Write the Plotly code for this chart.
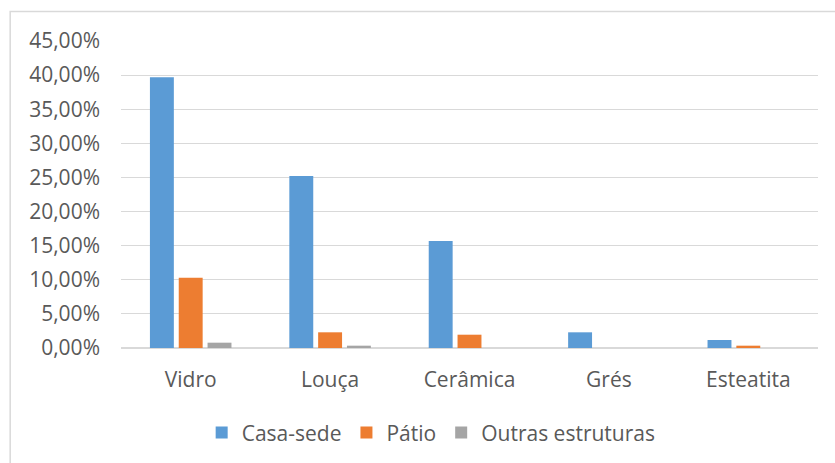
import plotly.graph_objects as go

# Share of archaeological material by category and excavation area
categories = ["Vidro", "Louça", "Cerâmica", "Grés", "Esteatita"]
casa_sede = [0.397, 0.252, 0.157, 0.023, 0.0117]
patio = [0.103, 0.023, 0.0195, 0.0, 0.0034]
outras = [0.0078, 0.0034, 0.0, 0.0, 0.0]
y_ticks = [0.0, 0.05, 0.10, 0.15, 0.20, 0.25, 0.30, 0.35, 0.40, 0.45]

font_family = "Open Sans"
text_color = "#595959"
grid_color = "#D9D9D9"

fig = go.Figure()
for name, vals, color in [
    ("Casa-sede", casa_sede, "#5B9BD5"),
    ("Pátio", patio, "#ED7D31"),
    ("Outras estruturas", outras, "#A5A5A5"),
]:
    fig.add_trace(go.Bar(x=categories, y=vals, name=name, marker_color=color,
                         marker_line_width=0))

fig.update_layout(
    width=835, height=463,
    margin=dict(l=121, r=17, t=41, b=115, autoexpand=False),
    paper_bgcolor="white", plot_bgcolor="white",
    separators=",.",
    barmode="group", bargap=0.38, bargroupgap=0.17,
    font=dict(family=font_family, size=21, color=text_color),
    showlegend=True,
    legend=dict(orientation="h", x=0.445, xanchor="center", y=-0.276,
                yanchor="middle", font=dict(size=21, color=text_color),
                traceorder="normal", itemwidth=30),
    shapes=[dict(type="rect", xref="paper", yref="paper",
                 x0=-0.159, x1=1.2, y0=-0.6, y1=1.096,
                 line=dict(color=grid_color, width=1.5), layer="below")],
)
fig.update_yaxes(range=[0, 0.45], tickvals=y_ticks, tickformat=".2%",
                 showgrid=True, gridcolor=grid_color, gridwidth=1.3,
                 zeroline=True, zerolinecolor=grid_color, zerolinewidth=1.5,
                 showline=False, ticks="", ticklabelstandoff=20)
fig.update_xaxes(showgrid=False, showline=False, ticks="",
                 ticklabelstandoff=17)

fig.write_html("out.html")
